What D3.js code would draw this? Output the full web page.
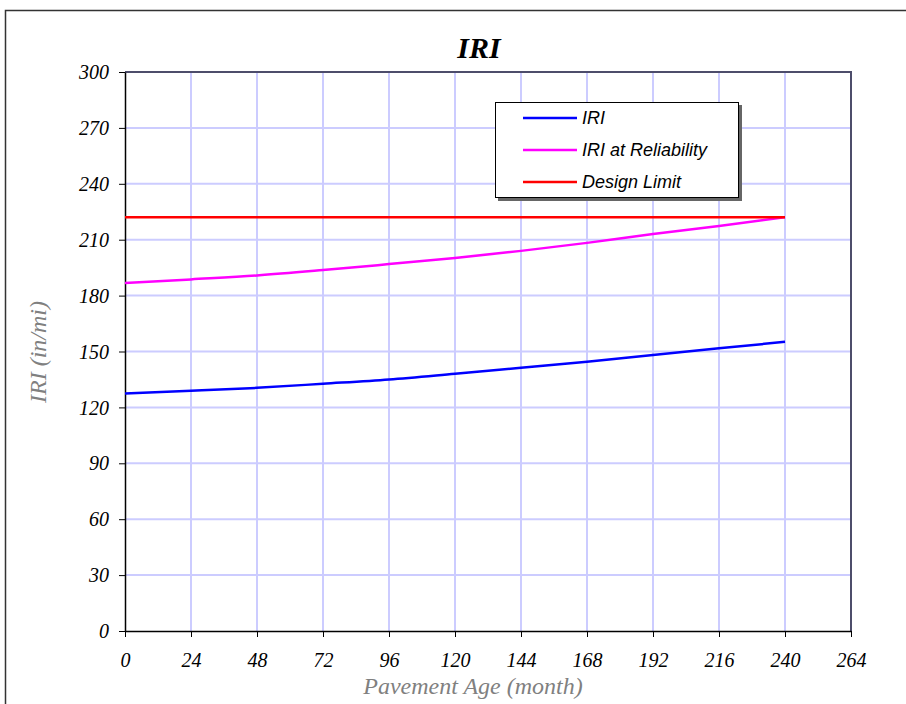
<!DOCTYPE html>
<html>
<head>
<meta charset="utf-8">
<script src="https://cdn.jsdelivr.net/npm/d3@7"></script>
<style>
  html, body { margin: 0; padding: 0; background: #fff; }
  svg { display: block; }
</style>
</head>
<body>
<svg id="chart" width="906" height="704"></svg>
<script>
// Pavement age (months) at which IRI was evaluated
const months = [0, 24, 48, 72, 96, 120, 144, 168, 192, 216, 240];
// Mean predicted IRI (in/mi)
const iriMean = [127.5, 128.9, 130.5, 132.7, 135.0, 138.1, 141.3, 144.5, 148.1, 151.7, 155.2];
// IRI at the design reliability level (in/mi)
const iriReliability = [186.7, 188.7, 190.8, 193.7, 196.9, 200.2, 204.0, 208.3, 213.0, 217.4, 222.1];
// Design limit for IRI (in/mi)
const designLimit = [222, 222, 222, 222, 222, 222, 222, 222, 222, 222, 222];

const xTicks = [0, 24, 48, 72, 96, 120, 144, 168, 192, 216, 240, 264];
const yTicks = [0, 30, 60, 90, 120, 150, 180, 210, 240, 270, 300];

const seriesNames = ["IRI", "IRI at Reliability", "Design Limit"];
const seriesColors = ["#0000ff", "#ff00ff", "#ff0000"];
const seriesValues = [iriMean, iriReliability, designLimit];

const svg = d3.select("#chart");
const plotLeft = 125, plotRight = 851, plotTop = 72, plotBottom = 631;

const x = d3.scaleLinear().domain([0, 264]).range([plotLeft, plotRight]);
const y = d3.scaleLinear().domain([0, 300]).range([plotBottom, plotTop]);

const serif = "'Liberation Serif', 'Times New Roman', serif";
const sans = "'Liberation Sans', Arial, sans-serif";

// outer chart frame
svg.append("rect")
  .attr("x", 5.5).attr("y", 10.5)
  .attr("width", 920).attr("height", 720)
  .attr("fill", "#fff")
  .attr("stroke", "#333").attr("stroke-width", 1.5);

// grid
const grid = svg.append("g");
grid.selectAll("line.v").data(xTicks.filter(d => d > 0 && d < 264)).join("line")
  .attr("class", "v")
  .attr("x1", d => x(d)).attr("x2", d => x(d))
  .attr("y1", plotTop).attr("y2", plotBottom)
  .attr("stroke", "#ccccff").attr("stroke-width", 2);
grid.selectAll("line.h").data(yTicks.filter(d => d > 0 && d < 300)).join("line")
  .attr("class", "h")
  .attr("x1", plotLeft).attr("x2", plotRight)
  .attr("y1", d => y(d)).attr("y2", d => y(d))
  .attr("stroke", "#ccccff").attr("stroke-width", 2);

// plot frame: top and right edges
svg.append("path")
  .attr("d", `M${plotLeft},${plotTop}H${plotRight}V${plotBottom}`)
  .attr("fill", "none").attr("stroke", "#4d4d6b").attr("stroke-width", 2);

// axes
const xAxis = svg.append("g")
  .attr("transform", `translate(0,${plotBottom})`)
  .call(d3.axisBottom(x).tickValues(xTicks).tickSize(6).tickSizeOuter(0).tickPadding(12));
const yAxis = svg.append("g")
  .attr("transform", `translate(${plotLeft},0)`)
  .call(d3.axisLeft(y).tickValues(yTicks).tickSize(6).tickSizeOuter(0).tickPadding(10));

[xAxis, yAxis].forEach(a => {
  a.select(".domain").attr("stroke", "#000").attr("stroke-width", 1.5);
  a.selectAll(".tick line").attr("stroke", "#000");
  a.selectAll(".tick text")
    .attr("fill", "#000")
    .style("font-family", serif)
    .style("font-style", "italic")
    .style("font-size", "20px");
});
xAxis.selectAll(".tick text").attr("dy", "0.9em");
yAxis.selectAll(".tick text").attr("dy", "0.33em");

// series lines
const line = d3.line()
  .x((d, i) => x(months[i]))
  .y(d => y(d))
  .curve(d3.curveMonotoneX);

svg.append("g").selectAll("path").data(seriesValues).join("path")
  .attr("d", d => line(d))
  .attr("fill", "none")
  .attr("stroke", (d, i) => seriesColors[i])
  .attr("stroke-width", 2.5);

// title
svg.append("text")
  .attr("x", 479).attr("y", 58)
  .attr("text-anchor", "middle")
  .style("font-family", serif)
  .style("font-style", "italic")
  .style("font-weight", "bold")
  .style("font-size", "30px")
  .text("IRI");

// axis titles
svg.append("text")
  .attr("x", 473).attr("y", 694)
  .attr("text-anchor", "middle")
  .attr("fill", "#808080")
  .style("font-family", serif)
  .style("font-style", "italic")
  .style("font-size", "24px")
  .text("Pavement Age (month)");

svg.append("text")
  .attr("transform", "translate(46,352) rotate(-90)")
  .attr("text-anchor", "middle")
  .attr("fill", "#808080")
  .style("font-family", serif)
  .style("font-style", "italic")
  .style("font-size", "24px")
  .text("IRI (in/mi)");

// legend
const lg = svg.append("g").attr("transform", "translate(495,102)");
lg.append("rect").attr("x", 3).attr("y", 3).attr("width", 244).attr("height", 96).attr("fill", "#666");
lg.append("rect").attr("x", 0.5).attr("y", 0.5).attr("width", 243).attr("height", 95)
  .attr("fill", "#fff").attr("stroke", "#000").attr("stroke-width", 1);
const items = lg.selectAll("g.item").data(seriesNames).join("g")
  .attr("class", "item")
  .attr("transform", (d, i) => `translate(0,${16 + i * 32})`);
items.append("line")
  .attr("x1", 28).attr("x2", 82)
  .attr("stroke", (d, i) => seriesColors[i]).attr("stroke-width", 2.5);
items.append("text")
  .attr("x", 87).attr("dy", "0.35em")
  .style("font-family", sans)
  .style("font-style", "italic")
  .style("font-size", "18px")
  .text(d => d);
</script>
</body>
</html>
